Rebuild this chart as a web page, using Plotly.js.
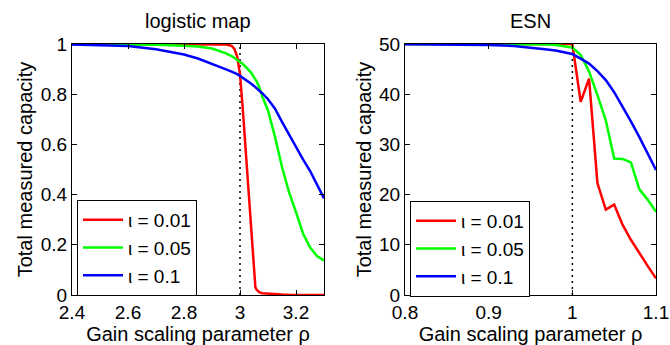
<!DOCTYPE html>
<html>
<head>
<meta charset="utf-8">
<script src="https://cdn.plot.ly/plotly-3.0.1.min.js"></script>
<style>html,body{margin:0;padding:0;background:#fff;}#chart{width:670px;height:345px;}</style>
</head>
<body>
<div id="chart"></div>
<script>
// ---- data: logistic map ----
var logX = [2.4, 2.5, 2.6, 2.7, 2.8, 2.85, 2.9, 2.95, 2.97, 2.98, 2.99, 3.0, 3.01, 3.02, 3.03, 3.04, 3.05, 3.055, 3.06, 3.07, 3.08, 3.1, 3.125, 3.15, 3.175, 3.2, 3.225, 3.25, 3.275, 3.3];
var logRed   = [1, 1, 1, 1, 1, 1, 1, 0.998, 0.993, 0.98, 0.95, 0.88, 0.74, 0.58, 0.41, 0.25, 0.08, 0.03, 0.02, 0.01, 0.007, 0.005, 0.003, 0.002, 0.001, 0.001, 0, 0, 0, 0];
var logGreen = [1, 1, 0.999, 0.997, 0.993, 0.99, 0.982, 0.963, 0.952, 0.945, 0.937, 0.928, 0.92, 0.91, 0.898, 0.885, 0.868, 0.86, 0.85, 0.825, 0.79, 0.735, 0.63, 0.51, 0.41, 0.33, 0.245, 0.19, 0.155, 0.137];
var logBlue  = [0.998, 0.996, 0.992, 0.979, 0.958, 0.942, 0.922, 0.899, 0.89, 0.886, 0.88, 0.873, 0.866, 0.858, 0.85, 0.842, 0.833, 0.828, 0.824, 0.814, 0.803, 0.78, 0.742, 0.69, 0.64, 0.585, 0.54, 0.495, 0.44, 0.385];

// ---- data: ESN ----
var esnX = [0.8, 0.85, 0.9, 0.93, 0.95, 0.97, 0.98, 0.99, 1.0, 1.01, 1.02, 1.03, 1.04, 1.05, 1.06, 1.07, 1.08, 1.09, 1.1];
var esnRed   = [50, 50, 50, 50, 50, 50, 50, 50, 50, 38.5, 43.1, 22.3, 17.0, 18.0, 14.0, 11.0, 8.3, 5.8, 3.3];
var esnGreen = [50, 50, 50, 50, 50, 49.9, 49.8, 49.6, 49.3, 47.8, 44.5, 39.8, 34.8, 27.2, 27.1, 26.4, 21.1, 19.0, 16.6];
var esnBlue  = [49.95, 49.9, 49.8, 49.6, 49.3, 48.9, 48.7, 48.4, 48.0, 47.1, 46.1, 44.6, 42.8, 40.4, 37.6, 34.6, 31.5, 28.2, 24.9];

var seriesNames = ['\u03b9 = 0.01', '\u03b9 = 0.05', '\u03b9 = 0.1'];
var seriesColors = ['#ff0000', '#00ff00', '#0000ff'];

var logTicks = [2.4, 2.6, 2.8, 3, 3.2];
var logTickText = ['2.4', '2.6', '2.8', '3', '3.2'];
var logYTicks = [0, 0.2, 0.4, 0.6, 0.8, 1];
var logYTickText = ['0', '0.2', '0.4', '0.6', '0.8', '1'];
var esnTicks = [0.8, 0.9, 1, 1.1];
var esnTickText = ['0.8', '0.9', '1', '1.1'];
var esnYTicks = [0, 10, 20, 30, 40, 50];
var esnYTickText = ['0', '10', '20', '30', '40', '50'];

var criticalLog = 3;
var criticalESN = 1;

var FONT = 'Liberation Sans, Arial, Helvetica, sans-serif';

var logY = [logRed, logGreen, logBlue];
var esnY = [esnRed, esnGreen, esnBlue];
var traces = [];
for (var i = 0; i < 3; i++) {
  traces.push({x: logX, y: logY[i], type: 'scatter', mode: 'lines', name: seriesNames[i],
    line: {color: seriesColors[i], width: 2.5}, xaxis: 'x', yaxis: 'y',
    legend: 'legend'});
}
for (var j = 0; j < 3; j++) {
  traces.push({x: esnX, y: esnY[j], type: 'scatter', mode: 'lines', name: seriesNames[j],
    line: {color: seriesColors[j], width: 2.5}, xaxis: 'x2', yaxis: 'y2',
    legend: 'legend2'});
}

function axisBase() {
  return {
    showgrid: false, zeroline: false, showline: true, linecolor: '#000', linewidth: 1,
    mirror: 'allticks', ticks: 'inside', ticklen: 5, tickcolor: '#000', tickwidth: 1,
    tickfont: {family: FONT, size: 19, color: '#000'}
  };
}

var xa = axisBase(); Object.assign(xa, {domain: [72/670, 324/670], range: [2.4, 3.3], tickvals: logTicks, ticktext: logTickText, anchor: 'y',
  title: {text: 'Gain scaling parameter \u03c1', font: {family: FONT, size: 20, color: '#000'}, standoff: 7}});
var ya = axisBase(); Object.assign(ya, {domain: [1 - 295/345, 1 - 44/345], range: [0, 1], tickvals: logYTicks, ticktext: logYTickText, anchor: 'x',
  title: {text: 'Total measured capacity', font: {family: FONT, size: 20, color: '#000'}, standoff: 2}});
var xa2 = axisBase(); Object.assign(xa2, {domain: [405/670, 656/670], range: [0.8, 1.1], tickvals: esnTicks, ticktext: esnTickText, anchor: 'y2',
  title: {text: 'Gain scaling parameter \u03c1', font: {family: FONT, size: 20, color: '#000'}, standoff: 7}});
var ya2 = axisBase(); Object.assign(ya2, {domain: [1 - 295/345, 1 - 44/345], range: [0, 50], tickvals: esnYTicks, ticktext: esnYTickText, anchor: 'x2',
  title: {text: 'Total measured capacity', font: {family: FONT, size: 20, color: '#000'}, standoff: 2}});

function legendBox(x, y) {
  return {x: x, y: y, xanchor: 'left', yanchor: 'top', xref: 'paper', yref: 'paper',
    bgcolor: '#fff', bordercolor: '#000', borderwidth: 1,
    font: {family: FONT, size: 19, color: '#000'}, itemwidth: 40};
}

var layout = {
  width: 670, height: 345,
  margin: {l: 0, r: 0, t: 0, b: 0},
  paper_bgcolor: '#fff', plot_bgcolor: '#fff',
  showlegend: true,
  font: {family: FONT, color: '#000'},
  xaxis: xa, yaxis: ya, xaxis2: xa2, yaxis2: ya2,
  legend: legendBox(77/670, 1 - 200/345),
  legend2: legendBox(410/670, 1 - 201/345),
  shapes: [
    {type: 'line', xref: 'x', yref: 'y', x0: criticalLog, x1: criticalLog, y0: 0, y1: 1,
      line: {color: '#000', width: 1.5, dash: '2px,4px'}, layer: 'below'},
    {type: 'line', xref: 'x2', yref: 'y2', x0: criticalESN, x1: criticalESN, y0: 0, y1: 50,
      line: {color: '#000', width: 1.5, dash: '2px,4px'}, layer: 'below'}
  ],
  annotations: [
    {text: 'logistic map', xref: 'paper', yref: 'paper', x: 198/670, y: 1 - 21/345, xanchor: 'center', yanchor: 'middle', showarrow: false,
      font: {family: FONT, size: 20, color: '#000'}},
    {text: 'ESN', xref: 'paper', yref: 'paper', x: 530/670, y: 1 - 21/345, xanchor: 'center', yanchor: 'middle', showarrow: false,
      font: {family: FONT, size: 20, color: '#000'}}
  ]
};

Plotly.newPlot('chart', traces, layout, {displayModeBar: false, staticPlot: true});
</script>
</body>
</html>
